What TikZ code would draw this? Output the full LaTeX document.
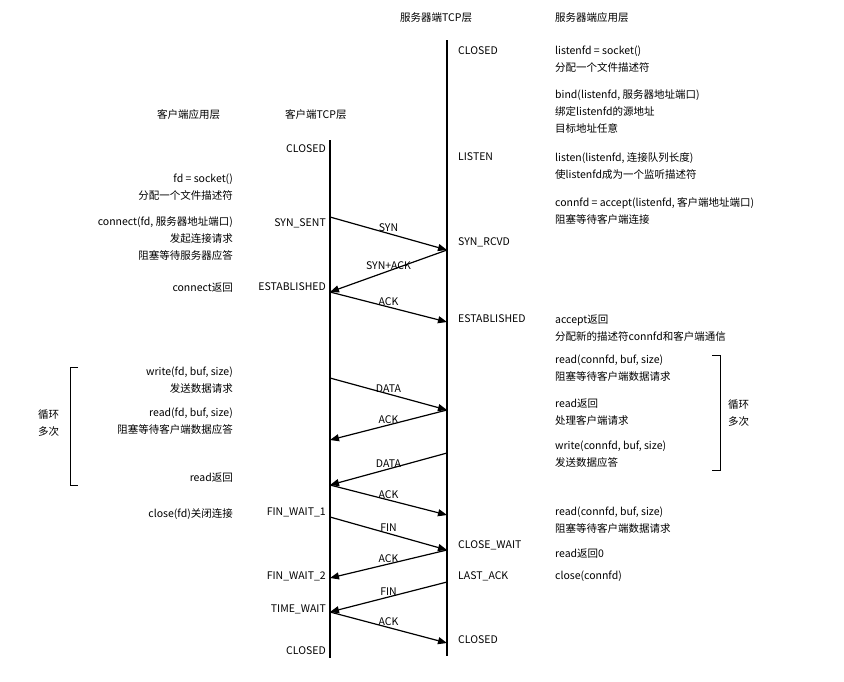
\documentclass[tikz,border=0pt]{standalone}
\usepackage{fontspec}
\setmainfont{Noto Sans CJK SC}
\usetikzlibrary{arrows.meta}
\begin{document}
\begin{tikzpicture}[x=1pt,y=-1pt,
  txt/.style={inner sep=0pt,font=\fontsize{10.5}{17}\selectfont,align=left},
  lt/.style={txt,anchor=north west,yshift=10pt},
  rt/.style={txt,anchor=north east,align=right,yshift=10pt},
  life/.style={line width=1.6pt},
  msg/.style={line width=1.2pt,-{Triangle[length=9pt,width=7pt]}},
  lab/.style={inner sep=0pt,font=\fontsize{10.5}{12}\selectfont,anchor=south,midway,yshift=1pt}]
\useasboundingbox (0,0) rectangle (844,681);
% lifelines
\coordinate (ct) at (330,140); \coordinate (cb) at (330,658);
\coordinate (st) at (447,40);  \coordinate (sb) at (447,656);
\draw[life] (ct) -- (cb);
\draw[life] (st) -- (sb);
% headers
\node[lt] (h1) at (400,22) {服务器端TCP层};
\node[lt] (h2) at (555,22) {服务器端应用层};
\node[lt] (h3) at (157,119) {客户端应用层};
\node[lt] (h4) at (285,119) {客户端TCP层};
% server states
\node[lt] (s1) at (458,56) {CLOSED};
\node[lt] (s2) at (458,162) {LISTEN};
\node[lt] (s3) at (458,247) {SYN\_RCVD};
\node[lt] (s4) at (458,324) {ESTABLISHED};
\node[lt] (s5) at (458,550) {CLOSE\_WAIT};
\node[lt] (s6) at (458,581) {LAST\_ACK};
\node[lt] (s7) at (458,645) {CLOSED};
% client states
\node[rt] (c1) at (326,154) {CLOSED};
\node[rt] (c2) at (326,228) {SYN\_SENT};
\node[rt] (c3) at (326,292) {ESTABLISHED};
\node[rt] (c4) at (326,518) {FIN\_WAIT\_1};
\node[rt] (c5) at (326,582) {FIN\_WAIT\_2};
\node[rt] (c6) at (326,615) {TIME\_WAIT};
\node[rt] (c7) at (326,656) {CLOSED};
% client app
\node[rt] (a1) at (233,184) {fd = socket()\\分配一个文件描述符};
\node[rt] (a2) at (233,226) {connect(fd, 服务器地址端口)\\发起连接请求\\阻塞等待服务器应答};
\node[rt] (a3) at (233,293) {connect返回};
\node[rt] (a4) at (233,377) {write(fd, buf, size)\\发送数据请求};
\node[rt] (a5) at (233,418) {read(fd, buf, size)\\阻塞等待客户端数据应答};
\node[rt] (a6) at (233,483) {read返回};
\node[rt] (a7) at (233,518) {close(fd)关闭连接};
\node[lt] (l1) at (38,419) {循环\\多次};
\draw[line width=0.8pt] (78,367) -- (70,367) -- (70,485) -- (78,485);
% server app
\node[lt] (b1) at (555,56) {listenfd = socket()\\分配一个文件描述符};
\node[lt] (b2) at (555,99) {bind(listenfd, 服务器地址端口)\\绑定listenfd的源地址\\目标地址任意};
\node[lt] (b3) at (555,162) {listen(listenfd, 连接队列长度)\\使listenfd成为一个监听描述符};
\node[lt] (b4) at (555,207) {connfd = accept(listenfd, 客户端地址端口)\\阻塞等待客户端连接};
\node[lt] (b5) at (555,325) {accept返回\\分配新的描述符connfd和客户端通信};
\node[lt] (b6) at (555,365) {read(connfd, buf, size)\\阻塞等待客户端数据请求};
\node[lt] (b7) at (555,409) {read返回\\处理客户端请求};
\node[lt] (b8) at (555,451) {write(connfd, buf, size)\\发送数据应答};
\node[lt] (b9) at (555,517) {read(connfd, buf, size)\\阻塞等待客户端数据请求};
\node[lt] (b10) at (555,559) {read返回0};
\node[lt] (b11) at (555,581) {close(connfd)};
\node[lt] (l2) at (728,409) {循环\\多次};
\draw[line width=0.8pt] (712,355) -- (720,355) -- (720,470) -- (712,470);
% message points
\foreach \n/\x/\y in {p1/330/217,p2/447/250,p3/330/292,p4/447/322,
  p5/330/378,p6/447/410,p7/330/440,p8/447/453,p9/330/485,p10/447/515,
  p11/330/517,p12/447/550,p13/330/578,p14/447/582,p15/330/612,p16/447/643}
  \coordinate (\n) at (\x,\y);
\draw[msg] (p1) -- node[lab]{SYN} (p2);
\draw[msg] (p2) -- node[lab]{SYN+ACK} (p3);
\draw[msg] (p3) -- node[lab]{ACK} (p4);
\draw[msg] (p5) -- node[lab]{DATA} (p6);
\draw[msg] (p6) -- node[lab]{ACK} (p7);
\draw[msg] (p8) -- node[lab]{DATA} (p9);
\draw[msg] (p9) -- node[lab]{ACK} (p10);
\draw[msg] (p11) -- node[lab]{FIN} (p12);
\draw[msg] (p12) -- node[lab]{ACK} (p13);
\draw[msg] (p14) -- node[lab]{FIN} (p15);
\draw[msg] (p15) -- node[lab]{ACK} (p16);
\end{tikzpicture}
\end{document}
